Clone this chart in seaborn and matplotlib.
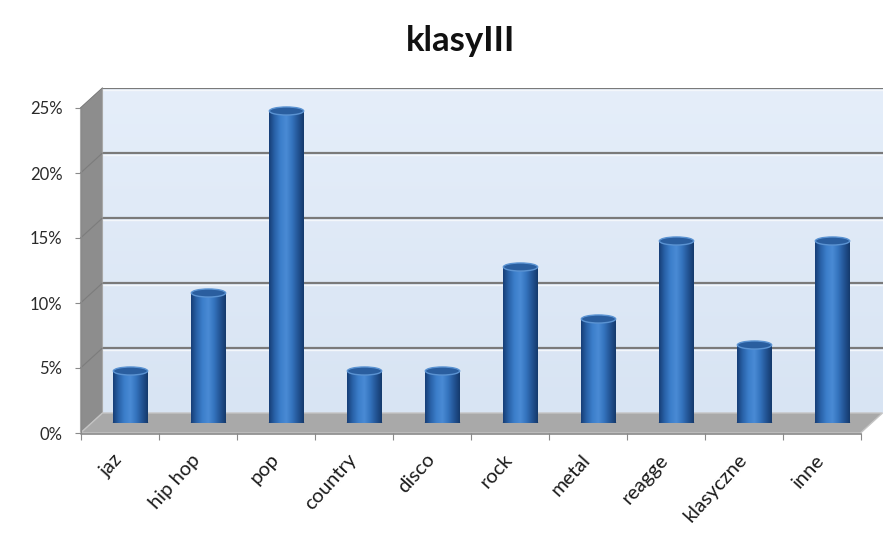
import numpy as np
import matplotlib
matplotlib.use("Agg")
import matplotlib.pyplot as plt
import seaborn as sns
from matplotlib.patches import Polygon, Ellipse
from matplotlib.colors import LinearSegmentedColormap

# data (percent of pupils)
categories = ['jaz', 'hip hop', 'pop', 'country', 'disco', 'rock', 'metal',
              'reagge', 'klasyczne', 'inne']
values = [4, 10, 24, 4, 4, 12, 8, 14, 6, 14]
y_ticks = [0, 5, 10, 15, 20, 25]
y_tick_labels = ['0%', '5%', '10%', '15%', '20%', '25%']
title = 'klasyIII'

sns.set_style('white')
plt.rcParams['font.family'] = ['Lato', 'DejaVu Sans']

W, H = 893, 541
fig = plt.figure(figsize=(W / 100, H / 100), dpi=100)
fig.patch.set_facecolor('white')


def px_axes(left, top, right, bottom, z=0):
    return fig.add_axes([left / W, 1 - bottom / H, (right - left) / W, (bottom - top) / H], zorder=z)


YMAX = 25
XLIM = (-0.5, len(categories) - 0.5)

# back wall (depth offset +11px, -10px from bar plane)
ax_back = px_axes(102.5, 88, 882.5, 413, z=0)
ax_back.set_xlim(XLIM)
ax_back.set_ylim(0, YMAX)
wall = np.linspace(0, 1, 100).reshape(-1, 1)
wall_cmap = LinearSegmentedColormap.from_list('wall', ['#d8e4f3', '#e5eefa'])
ax_back.imshow(wall, extent=(XLIM[0], XLIM[1], 0, YMAX), aspect='auto',
               cmap=wall_cmap, origin='lower', zorder=0)
for t in y_ticks[1:]:
    ax_back.axhline(t, color='#7a7a7a', lw=1.6, zorder=2)
    ax_back.axhline(t - 0.12, color='#f4f7fb', lw=1.0, zorder=2)
ax_back.set_xlim(XLIM)
ax_back.set_ylim(0, YMAX)
ax_back.axis('off')

# side wall and floor drawn in pixel space
overlay = fig.add_axes([0, 0, 1, 1], zorder=1)
overlay.set_xlim(0, W)
overlay.set_ylim(H, 0)
overlay.axis('off')
overlay.patch.set_alpha(0)
overlay.add_patch(Polygon([(80.5, 433), (80.5, 108), (102.5, 88), (102.5, 413)],
                          closed=True, facecolor='#8d8d8d', edgecolor='#a8a8a8', lw=0.8))
# faint gridlines on side wall
for t in y_ticks[1:]:
    yf = 433 - t * 13
    overlay.plot([80.5, 102.5], [yf, yf - 20], color='#7c7c7c', lw=0.8)
overlay.add_patch(Polygon([(80.5, 433), (860.5, 433), (882.5, 413), (102.5, 413)],
                          closed=True, facecolor='#a9a9a9', edgecolor='#c4c4c4', lw=1.0))
overlay.plot([80.5, 860.5], [433.5, 433.5], color='#8a8a8a', lw=1.2)

# bar plane (middle depth)
ax = px_axes(91.5, 98, 871.5, 423, z=2)
ax.patch.set_alpha(0)
sns.barplot(x=categories, y=values, color='#2f6db5', saturation=1, width=0.44,
            ax=ax, edgecolor='none')
cyl_cmap = LinearSegmentedColormap.from_list(
    'cyl', ['#173f78', '#2a64ab', '#3c7fcb', '#4a8bd5', '#3473bd', '#235596', '#153a6d'])
grad = np.linspace(0, 1, 64).reshape(1, -1)
cap_h = 0.62
for p in list(ax.patches):
    x0 = p.get_x()
    w = p.get_width()
    v = p.get_height()
    cx = x0 + w / 2
    ax.add_patch(Ellipse((cx, 0), w, cap_h, facecolor='#245a9c', edgecolor='#1b477f',
                         lw=0.8, zorder=1))
    im = ax.imshow(grad, extent=(x0, x0 + w, 0, v), aspect='auto', cmap=cyl_cmap, zorder=2)
    im.set_clip_path(p)
    ax.add_patch(Ellipse((cx, v), w, cap_h, facecolor='#2a5e9f', edgecolor='#5b93d2',
                         lw=1.0, zorder=3))
ax.set_xlim(XLIM)
ax.set_ylim(0, YMAX)
ax.axis('off')

# front plane: axis lines, ticks, labels
ax_front = px_axes(80.5, 108, 860.5, 433, z=3)
ax_front.patch.set_alpha(0)
ax_front.set_xlim(XLIM)
ax_front.set_ylim(0, YMAX)
ax_front.set_yticks(y_ticks)
ax_front.set_yticklabels(y_tick_labels)
ax_front.set_xticks(range(len(categories)))
ax_front.set_xticklabels(categories, rotation=48, ha='right', va='center',
                         rotation_mode='anchor')
ax_front.set_xticks(np.arange(-0.5, len(categories), 1), minor=True)
ax_front.tick_params(axis='x', which='major', length=0, pad=17, labelsize=14.5,
                     labelcolor='#1a1a1a')
ax_front.tick_params(axis='x', which='minor', length=5, width=0.8, color='#8a8a8a',
                     direction='out', bottom=True)
ax_front.tick_params(axis='y', length=4, width=0.8, color='#8a8a8a', pad=9,
                     labelsize=12, labelcolor='#2a2a2a', left=True)
for s in ['top', 'right', 'bottom']:
    ax_front.spines[s].set_visible(False)
ax_front.spines['left'].set_color('#8a8a8a')
ax_front.spines['left'].set_linewidth(0.8)

fig.text(461 / W, 1 - 41 / H, title, ha='center', va='center', fontsize=25,
         fontweight='bold', color='#111111')

fig.savefig('out.png', dpi=100)
